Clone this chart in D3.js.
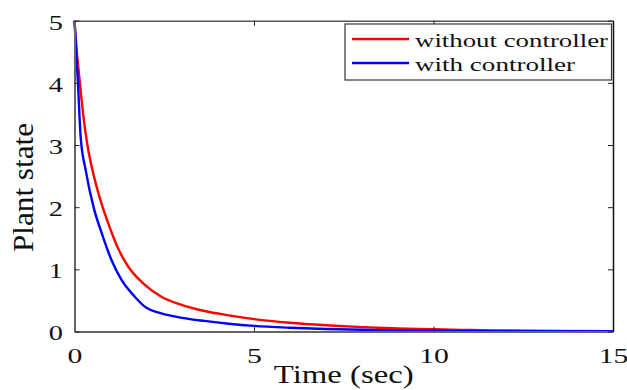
<!DOCTYPE html>
<html>
<head>
<meta charset="utf-8">
<script src="https://cdn.jsdelivr.net/npm/d3@7"></script>
<style>
  body { margin: 0; background: #fff; }
  svg { display: block; }
  text { font-family: "Liberation Serif", "Times New Roman", serif; fill: #111; }
</style>
</head>
<body>
<svg width="627" height="390"></svg>
<script>
const width = 627;
const height = 390;

// data
const time_red = [0, 0.05, 0.15, 0.25, 0.36, 0.54, 0.74, 0.94, 1.22, 1.49, 1.96, 2.42, 2.98, 3.62, 4.3, 5.0, 6.0, 7.0, 8.0, 9.0, 10.0, 11.0, 12.0, 13.5, 15.0];
const without_controller = [5, 4.6, 4.0, 3.45, 3.0, 2.5, 2.08, 1.74, 1.33, 1.05, 0.75, 0.56, 0.43, 0.33, 0.26, 0.2, 0.14, 0.1, 0.07, 0.05, 0.035, 0.024, 0.016, 0.009, 0.005];
const time_blue = [0, 0.05, 0.1, 0.17, 0.31, 0.54, 0.76, 1.03, 1.31, 1.68, 1.96, 2.42, 3.0, 3.62, 4.3, 5.0, 6.0, 7.0, 8.0, 9.0, 10.0, 12.0, 15.0];
const with_controller = [5, 4.48, 3.95, 3.14, 2.6, 1.98, 1.58, 1.15, 0.83, 0.56, 0.4, 0.29, 0.22, 0.17, 0.125, 0.09, 0.06, 0.04, 0.028, 0.018, 0.012, 0.006, 0.003];
const series_names = ["without controller", "with controller"];
const series_colors = ["#ff0000", "#0000ff"];
const x_ticks = [0, 5, 10, 15];
const y_ticks = [0, 1, 2, 3, 4, 5];

const plot_left = 74.5;
const plot_right = 613;
const plot_top = 20.7;
const plot_bottom = 331.5;
const stretch = 1.35; // the picture's text is wider than it is tall

let svg = d3.select("svg");

let x = d3.scaleLinear().domain([0, 15]).range([plot_left, plot_right]);
let y = d3.scaleLinear().domain([0, 5]).range([plot_bottom, plot_top]);

// curves
const series = [
  time_red.map((t, i) => [t, without_controller[i]]),
  time_blue.map((t, i) => [t, with_controller[i]]),
];
let line = d3.line()
  .x(d => x(d[0]))
  .y(d => y(d[1]))
  .curve(d3.curveMonotoneX);

series.forEach((s, i) => {
  svg.append("path")
    .attr("d", line(s))
    .attr("fill", "none")
    .attr("stroke", series_colors[i])
    .attr("stroke-width", 2.4);
});

// axes with inward ticks on all four sides
const tick_len = 5;
svg.append("g")
  .attr("transform", `translate(0,${plot_bottom})`)
  .call(d3.axisBottom(x).tickValues(x_ticks).tickFormat(d3.format("d")).tickSizeInner(-tick_len).tickSizeOuter(0).tickPadding(16))
  .call(g => g.select(".domain").attr("stroke", "#666").attr("stroke-width", 2))
  .call(g => g.selectAll(".tick line").attr("stroke", "#222"))
  .call(g => g.selectAll("text")
    .attr("font-size", 22)
    .attr("fill", "#111")
    .attr("font-family", "Liberation Serif")
    .attr("transform", `scale(${stretch},1)`));

svg.append("g")
  .attr("transform", `translate(0,${plot_top})`)
  .call(d3.axisTop(x).tickValues(x_ticks).tickSizeInner(-tick_len).tickSizeOuter(0).tickFormat(""))
  .call(g => g.select(".domain").attr("stroke", "#555").attr("stroke-width", 1.5))
  .call(g => g.selectAll(".tick line").attr("stroke", "#222"));

svg.append("g")
  .attr("transform", `translate(${plot_left},0)`)
  .call(d3.axisLeft(y).tickValues(y_ticks).tickFormat(d3.format("d")).tickSizeInner(-tick_len).tickSizeOuter(0).tickPadding(0))
  .call(g => g.select(".domain").attr("stroke", "#666").attr("stroke-width", 2))
  .call(g => g.selectAll(".tick line").attr("stroke", "#222"))
  .call(g => g.selectAll("text")
    .attr("font-size", 21)
    .attr("fill", "#111")
    .attr("font-family", "Liberation Serif")
    .attr("x", -11.5 / stretch)
    .attr("dy", "0.4em")
    .attr("transform", `scale(${stretch},1)`));

svg.append("g")
  .attr("transform", `translate(${plot_right},0)`)
  .call(d3.axisRight(y).tickValues(y_ticks).tickSizeInner(-tick_len).tickSizeOuter(0).tickFormat(""))
  .call(g => g.select(".domain").attr("stroke", "#111").attr("stroke-width", 1.5))
  .call(g => g.selectAll(".tick line").attr("stroke", "#222"));

// axis labels
svg.append("text")
  .attr("x", (plot_left + plot_right) / 2)
  .attr("y", 383)
  .attr("text-anchor", "middle")
  .attr("font-size", 26)
  .attr("textLength", 140)
  .attr("lengthAdjust", "spacingAndGlyphs")
  .text("Time (sec)");

svg.append("text")
  .attr("transform", `translate(33,187.5) rotate(-90)`)
  .attr("text-anchor", "middle")
  .attr("font-size", 29)
  .attr("textLength", 129)
  .attr("lengthAdjust", "spacingAndGlyphs")
  .text("Plant state");

// legend
let legend = svg.append("g");
legend.append("rect")
  .attr("x", 345)
  .attr("y", 24)
  .attr("width", 266.5)
  .attr("height", 56)
  .attr("fill", "#fff")
  .attr("stroke", "#333")
  .attr("stroke-width", 1.2);

const legend_widths = [193, 160];
series_names.forEach((name, i) => {
  const ly = 39 + i * 24;
  legend.append("line")
    .attr("x1", 352)
    .attr("x2", 409)
    .attr("y1", ly)
    .attr("y2", ly)
    .attr("stroke", series_colors[i])
    .attr("stroke-width", 2.4);
  legend.append("text")
    .attr("x", 415)
    .attr("y", ly + 8)
    .attr("font-size", 19.5)
    .attr("textLength", legend_widths[i])
    .attr("lengthAdjust", "spacingAndGlyphs")
    .text(name);
});
</script>
</body>
</html>
